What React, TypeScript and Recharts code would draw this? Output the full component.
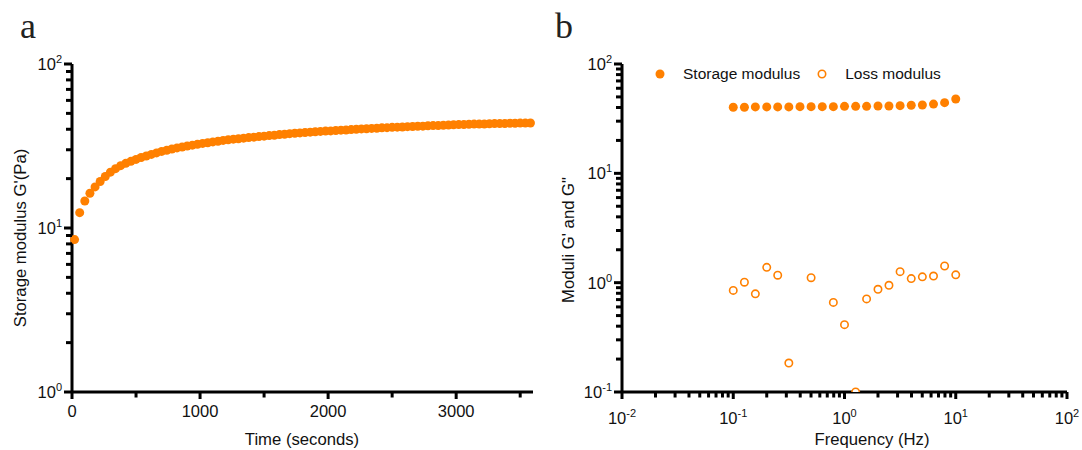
import React from 'react';
import { ScatterChart, Scatter, XAxis, YAxis, Label, Legend } from 'recharts';

const ORANGE = '#FF8000';
const FONT = '"Liberation Sans", Arial, Helvetica, sans-serif';

// panel a: storage modulus while the gel sets
const timeSeconds = [
  20, 60, 100, 140, 180, 220, 260, 300, 340, 380, 420, 460, 500, 540, 580,
  620, 660, 700, 740, 780, 820, 860, 900, 940, 980, 1020, 1060, 1100, 1140,
  1180, 1220, 1260, 1300, 1340, 1380, 1420, 1460, 1500, 1540, 1580, 1620,
  1660, 1700, 1740, 1780, 1820, 1860, 1900, 1940, 1980, 2020, 2060, 2100,
  2140, 2180, 2220, 2260, 2300, 2340, 2380, 2420, 2460, 2500, 2540, 2580,
  2620, 2660, 2700, 2740, 2780, 2820, 2860, 2900, 2940, 2980, 3020, 3060,
  3100, 3140, 3180, 3220, 3260, 3300, 3340, 3380, 3420, 3460, 3500, 3540, 3580,
];
const storageOverTime = [
  8.5, 12.4, 14.6, 16.3, 17.8, 19.2, 20.6, 21.9, 23.0, 24.0, 24.8, 25.5, 26.2,
  26.9, 27.5, 28.1, 28.7, 29.3, 29.8, 30.3, 30.8, 31.2, 31.6, 32.0, 32.4, 32.8,
  33.1, 33.5, 33.8, 34.2, 34.5, 34.8, 35.0, 35.3, 35.6, 35.8, 36.1, 36.3, 36.6,
  36.8, 37.1, 37.3, 37.6, 37.8, 38.0, 38.2, 38.4, 38.6, 38.8, 39.0, 39.1, 39.3,
  39.5, 39.6, 39.8, 40.0, 40.2, 40.3, 40.5, 40.6, 40.8, 40.9, 41.1, 41.2, 41.3,
  41.5, 41.6, 41.7, 41.8, 42.0, 42.1, 42.2, 42.3, 42.4, 42.6, 42.7, 42.8, 42.9,
  43.0, 43.0, 43.1, 43.2, 43.3, 43.3, 43.4, 43.5, 43.5, 43.6, 43.6, 43.7,
];

// panel b: frequency sweep
const frequencyHz = [
  0.1, 0.126, 0.158, 0.2, 0.251, 0.316, 0.398, 0.501, 0.631, 0.794, 1,
  1.26, 1.58, 2, 2.51, 3.16, 3.98, 5.01, 6.31, 7.94, 10,
];
const storageModulus = [
  40.2, 40.2, 40.5, 40.5, 40.5, 40.5, 40.7, 40.7, 40.7, 40.7, 41.0,
  41.0, 41.0, 41.3, 41.3, 41.6, 41.9, 42.2, 43.0, 44.3, 47.9,
];
const lossModulus: (number | null)[] = [
  0.85, 1.01, 0.79, 1.38, 1.17, 0.184, null, 1.11, null, 0.66, 0.413,
  0.1, 0.71, 0.87, 0.946, 1.26, 1.09, 1.13, 1.15, 1.42, 1.18,
];

const seriesOrder = ['Storage modulus', 'Loss modulus'];
const timeTicks = [0, 500, 1000, 1500, 2000, 2500, 3000, 3500];
const leftDecades = [1, 10];
const rightYDecades = [0.1, 1, 10];
const rightXDecades = [0.01, 0.1, 1, 10];

const logTicks = (decades: number[]) => {
  const out: number[] = [];
  decades.forEach((d) => {
    for (let k = 1; k < 10; k++) out.push(d * k);
  });
  out.push(decades[decades.length - 1] * 10);
  return out;
};

const gelData = timeSeconds.map((t, i) => ({ x: t, y: storageOverTime[i] }));
const storageData = frequencyHz.map((f, i) => ({ x: f, y: storageModulus[i] }));
const lossData = frequencyHz
  .map((f, i) => ({ x: f, y: lossModulus[i] }))
  .filter((d) => d.y !== null);

const isDecade = (v: number) =>
  Math.abs(Math.log10(v) - Math.round(Math.log10(v))) < 1e-6;

const INK = '#000';

const PowerLabel = ({ x, y, exp, anchor }: any) => (
  <text x={x} y={y} textAnchor={anchor} fontFamily={FONT} fontSize={16.5} fill="#111">
    10
    <tspan dy={-7} fontSize={11}>
      {exp}
    </tspan>
  </text>
);

// tick lines and labels drawn here; major ticks a bit longer than minor
const YLogTick = (props: any) => {
  const { x, y, payload } = props;
  const major = isDecade(payload.value);
  return (
    <g>
      <line x1={x - (major ? 8 : 6)} x2={x} y1={y} y2={y} stroke={INK} strokeWidth={3} />
      {major && (
        <PowerLabel x={x - 10} y={y + 6} exp={Math.round(Math.log10(payload.value))} anchor="end" />
      )}
    </g>
  );
};

const XLogTick = (props: any) => {
  const { x, y, payload } = props;
  const major = isDecade(payload.value);
  return (
    <g>
      <line x1={x} x2={x} y1={y} y2={y + (major ? 7 : 5.5)} stroke={INK} strokeWidth={3} />
      {major && (
        <PowerLabel x={x} y={y + 32} exp={Math.round(Math.log10(payload.value))} anchor="middle" />
      )}
    </g>
  );
};

const TimeTick = (props: any) => {
  const { x, y, payload } = props;
  const major = payload.value % 1000 === 0;
  return (
    <g>
      <line x1={x} x2={x} y1={y} y2={y + (major ? 7 : 5.5)} stroke={INK} strokeWidth={3} />
      {major && (
        <text x={x} y={y + 25} textAnchor="middle" fontFamily={FONT} fontSize={16.5} fill="#111">
          {payload.value}
        </text>
      )}
    </g>
  );
};

const FilledDot = (props: any) => <circle cx={props.cx} cy={props.cy} r={4.5} fill={ORANGE} />;
const OpenDot = (props: any) => (
  <circle cx={props.cx} cy={props.cy} r={3.7} fill="#fff" stroke={ORANGE} strokeWidth={1.6} />
);

const axisTitle = (text: string, x: number, y: number, rotate = false) => () => (
  <text
    x={x}
    y={y}
    textAnchor="middle"
    dominantBaseline={rotate ? 'central' : 'auto'}
    transform={rotate ? `rotate(-90 ${x} ${y})` : undefined}
    fontFamily={FONT}
    fontSize={16.7}
    fill="#111"
  >
    {text}
  </text>
);

const renderLegend = (props: any) => {
  const items = [...(props.payload || [])].sort(
    (a: any, b: any) => seriesOrder.indexOf(a.value) - seriesOrder.indexOf(b.value)
  );
  return (
    <div style={{ display: 'flex', alignItems: 'center', fontFamily: FONT, fontSize: 15.5, color: '#111' }}>
      {items.map((entry: any) => {
        const filled = entry.value === 'Storage modulus';
        return (
          <span key={entry.value} style={{ display: 'flex', alignItems: 'center', marginRight: 17 }}>
            <svg width={10} height={10} style={{ marginRight: 18 }}>
              {filled ? (
                <circle cx={5} cy={5} r={4.5} fill={ORANGE} />
              ) : (
                <circle cx={5} cy={5} r={3.7} fill="#fff" stroke={ORANGE} strokeWidth={1.6} />
              )}
            </svg>
            {entry.value}
          </span>
        );
      })}
    </div>
  );
};

const axisLine = { stroke: INK, strokeWidth: 3 };
const panelLetter: React.CSSProperties = {
  position: 'absolute',
  top: 8,
  fontFamily: '"Liberation Serif", "Times New Roman", serif',
  fontSize: 36,
  lineHeight: 1,
  color: '#222',
};

export default function App() {
  return (
    <div style={{ position: 'absolute', left: 0, top: 0, width: 1082, height: 450, background: '#fff' }}>
      <div style={{ ...panelLetter, left: 20 }}>a</div>
      <div style={{ ...panelLetter, left: 555 }}>b</div>

      <div style={{ position: 'absolute', left: 0, top: 0 }}>
        <ScatterChart width={537} height={450} margin={{ top: 64, right: 4, bottom: 0, left: 12 }}>
          <XAxis
            type="number"
            dataKey="x"
            domain={[0, 3600]}
            ticks={timeTicks}
            interval={0}
            height={58}
            tickSize={0}
            tickMargin={0}
            tickLine={false}
            tick={TimeTick}
            axisLine={axisLine}
          >
            <Label content={axisTitle('Time (seconds)', 302, 445)} />
          </XAxis>
          <YAxis
            type="number"
            dataKey="y"
            scale="log"
            domain={[1, 100]}
            ticks={logTicks(leftDecades)}
            interval={0}
            width={60}
            tickSize={0}
            tickMargin={0}
            tickLine={false}
            tick={YLogTick}
            axisLine={axisLine}
          >
            <Label content={axisTitle("Storage modulus G'(Pa)", 20, 238, true)} />
          </YAxis>
          <Scatter name="Storage modulus" data={gelData} fill={ORANGE} shape={FilledDot} isAnimationActive={false} />
        </ScatterChart>
      </div>

      <div style={{ position: 'absolute', left: 537, top: 0 }}>
        <ScatterChart width={545} height={450} margin={{ top: 64, right: 15, bottom: 0, left: 25 }}>
          <XAxis
            type="number"
            dataKey="x"
            scale="log"
            domain={[0.01, 100]}
            ticks={logTicks(rightXDecades)}
            interval={0}
            height={58}
            tickSize={0}
            tickMargin={0}
            tickLine={false}
            tick={XLogTick}
            axisLine={axisLine}
          >
            <Label content={axisTitle('Frequency (Hz)', 335, 445)} />
          </XAxis>
          <YAxis
            type="number"
            dataKey="y"
            scale="log"
            domain={[0.1, 100]}
            ticks={logTicks(rightYDecades)}
            interval={0}
            width={60}
            tickSize={0}
            tickMargin={0}
            tickLine={false}
            tick={YLogTick}
            axisLine={axisLine}
            allowDataOverflow
          >
            <Label content={axisTitle('Moduli G\' and G"', 31, 240, true)} />
          </YAxis>
          <Legend
            layout="horizontal"
            verticalAlign="middle"
            align="center"
            wrapperStyle={{ top: 65, left: 118, width: 420 }}
            content={renderLegend}
          />
          <Scatter name="Storage modulus" data={storageData} fill={ORANGE} shape={FilledDot} isAnimationActive={false} />
          <Scatter name="Loss modulus" data={lossData} fill={ORANGE} shape={OpenDot} isAnimationActive={false} />
        </ScatterChart>
      </div>
    </div>
  );
}
